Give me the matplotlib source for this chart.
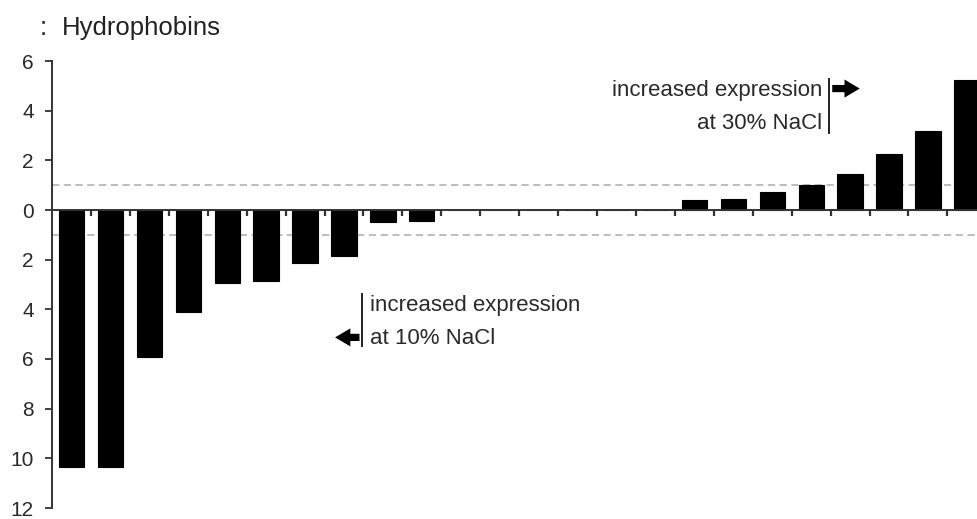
import matplotlib
matplotlib.use("Agg")
import matplotlib.pyplot as plt
from matplotlib.ticker import FuncFormatter
from matplotlib.patches import FancyArrowPatch

plt.rcParams['font.family'] = ['Liberation Sans', 'DejaVu Sans']

# ---- data ----
gene_index = list(range(24))
log2_change = [-10.35, -10.35, -5.9, -4.1, -2.95, -2.85, -2.15, -1.85, -0.5, -0.45,
               0, 0, 0, 0, 0, 0,
               0.4, 0.43, 0.73, 1.0, 1.43, 2.25, 3.2, 5.25]
y_ticks = [6, 4, 2, 0, -2, -4, -6, -8, -10, -12]
threshold = [1, -1]
title = "Hydrophobins"
label_30 = "increased expression\nat 30% NaCl"
label_10 = "increased expression\nat 10% NaCl"

fig = plt.figure(figsize=(9.77, 5.19), dpi=100)
ax = fig.add_axes([52/977, 1 - 508/519, 1 - 52/977, (508 - 61)/519])

ax.bar(gene_index, log2_change, width=0.65, color='black', edgecolor='black', linewidth=0.8, zorder=3)

for t in threshold:
    ax.axhline(t, color='#b8b8b8', linestyle=(0, (4, 2.5)), linewidth=1.3, zorder=1)

ax.set_xlim(-0.5, 23.26)
ax.set_ylim(-12, 6)
ax.set_yticks(y_ticks)
ax.yaxis.set_major_formatter(FuncFormatter(lambda v, p: f"{abs(int(v))}"))
ax.set_xticks([i + 0.5 for i in gene_index[:-1]])
ax.set_xticklabels([])

for s in ['top', 'right']:
    ax.spines[s].set_visible(False)
ax.spines['bottom'].set_position(('data', 0))
ax.spines['bottom'].set_color('#333333')
ax.spines['bottom'].set_linewidth(1.4)
ax.spines['bottom'].set_zorder(4)
ax.spines['left'].set_color('#333333')
ax.spines['left'].set_linewidth(1.4)
ax.tick_params(axis='y', direction='out', length=5, width=1.3, colors='#333333',
               labelsize=15, pad=8, labelcolor='#2a2a2a')
ax.tick_params(axis='x', direction='out', length=4, width=1.6, colors='#333333')

# title
fig.text(62/977, 1 - 28/519, title, fontsize=18.5, color='#222222', va='center', ha='left')
fig.text(40/977, 1 - 28/519, ":", fontsize=18.5, color='#222222', va='center', ha='left')

arrow_style = 'simple,head_length=0.55,head_width=0.65,tail_width=0.26'

# annotation 30% NaCl
ax.plot([19.47, 19.47], [5.26, 3.12], color='#222222', linewidth=1.4, zorder=5)
ax.add_patch(FancyArrowPatch((19.47, 4.89), (20.32, 4.89), arrowstyle=arrow_style,
                             mutation_scale=20, color='black', linewidth=0, zorder=5))
ax.text(19.29, 4.15, label_30, ha='right', va='center', fontsize=16,
        color='#2a2a2a', linespacing=1.75)

# annotation 10% NaCl
ax.plot([7.47, 7.47], [-3.40, -5.46], color='#222222', linewidth=1.4, zorder=5)
ax.add_patch(FancyArrowPatch((7.47, -5.13), (6.70, -5.13), arrowstyle=arrow_style,
                             mutation_scale=20, color='black', linewidth=0, zorder=5))
ax.text(7.67, -4.51, label_10, ha='left', va='center', fontsize=16,
        color='#2a2a2a', linespacing=1.75)

fig.savefig("out.png", dpi=100)
